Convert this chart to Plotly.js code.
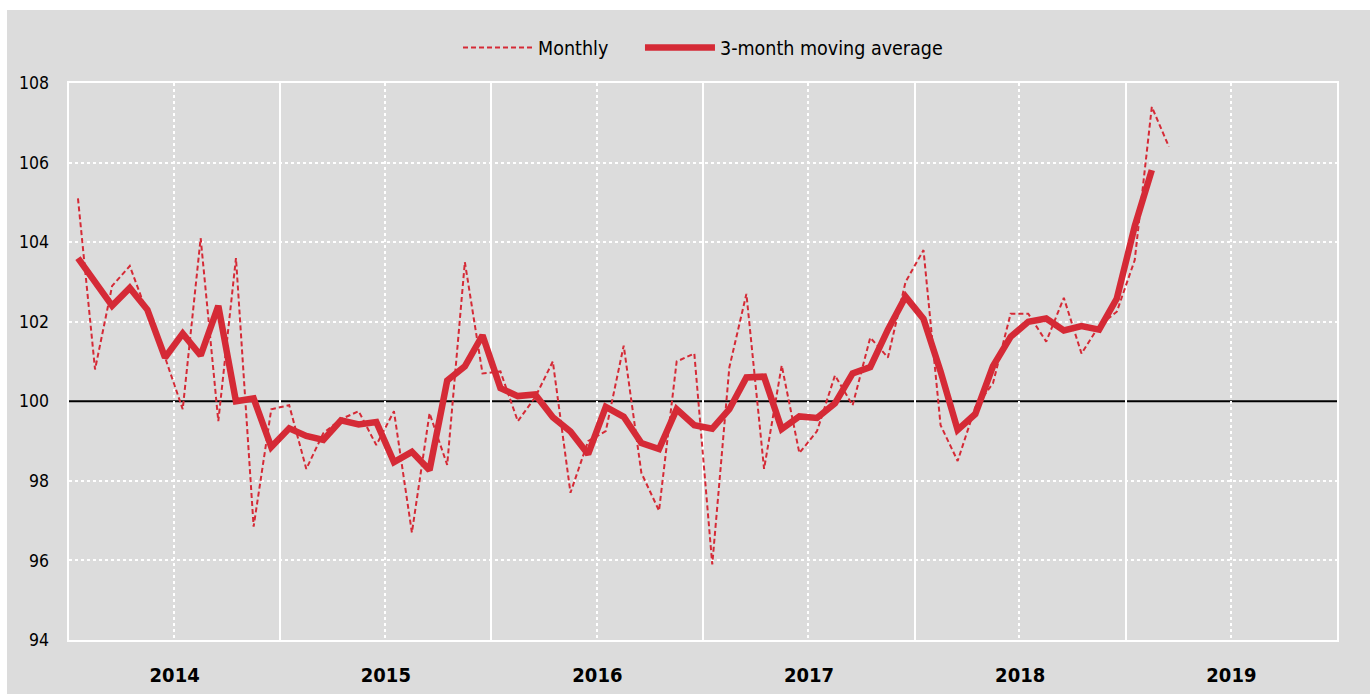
<!DOCTYPE html>
<html>
<head>
<meta charset="utf-8">
<script src="https://cdn.plot.ly/plotly-3.0.1.min.js"></script>
<style>
  html, body { margin: 0; padding: 0; background: #ffffff; }
  #chart { position: absolute; left: 7px; top: 10px; width: 1363px; height: 684px; }
</style>
</head>
<body>
<div id="chart"></div>
<script>
// Months, January 2014 onward
const startMonth = "2014-01";
const monthlyValues = [
  105.1, 100.8, 102.9, 103.4, 102.2, 101.1, 99.8, 104.1, 99.5, 103.6, 96.85, 99.8,
  99.9, 98.3, 99.2, 99.55, 99.75, 98.9, 99.75, 96.7, 99.7, 98.4, 103.5, 100.7,
  100.75, 99.5, 100.1, 101.0, 97.7, 99.0, 99.25, 101.4, 98.2, 97.25, 101.0, 101.2,
  95.9, 100.85, 102.7, 98.3, 100.9, 98.7, 99.25, 100.65, 99.9, 101.6, 101.1, 103.0,
  103.8, 99.4, 98.5, 99.85, 100.45, 102.2, 102.2, 101.5, 102.6, 101.2, 101.9, 102.25,
  103.55, 107.4, 106.4
];
const movingAverageValues = [
  103.6, 103.0, 102.4, 102.85, 102.3, 101.1, 101.7, 101.15, 102.4, 100.0, 100.07, 98.85,
  99.32, 99.13, 99.03, 99.52, 99.42, 99.48, 98.47, 98.73, 98.27, 100.52, 100.88, 101.66,
  100.33, 100.13, 100.17, 99.6, 99.24, 98.67, 99.86, 99.61, 98.95, 98.8, 99.8, 99.4,
  99.31, 99.8, 100.6, 100.62, 99.3, 99.62, 99.58, 99.95, 100.7, 100.86, 101.8, 102.63,
  102.07, 100.75, 99.28, 99.68, 100.88, 101.62, 102.0, 102.08, 101.78, 101.89, 101.8, 102.58,
  104.4, 105.81
];
const yTickValues = [94, 96, 98, 100, 102, 104, 106, 108];
const yDottedGridValues = [96, 98, 102, 104, 106];
const yRange = [94, 108];
const referenceLevel = 100;

function monthDates(n) {
  const [y0, m0] = startMonth.split("-").map(Number);
  const out = [];
  for (let i = 0; i < n; i++) {
    const t = (m0 - 1) + i;
    const y = y0 + Math.floor(t / 12);
    const m = (t % 12) + 1;
    out.push(y + "-" + String(m).padStart(2, "0") + "-01");
  }
  return out;
}

const red = "#d52a36";
const fontFam = '"Liberation Sans Narrow", "Arial Narrow", "DejaVu Sans Condensed", "Liberation Sans", Arial, sans-serif';

const traces = [
  {
    x: monthDates(monthlyValues.length),
    y: monthlyValues,
    xperiod: "M1",
    xperiodalignment: "middle",
    type: "scatter",
    mode: "lines",
    name: "Monthly",
    legend: "legend",
    line: { color: red, width: 2, dash: "5px,3px" },
    hoverinfo: "skip"
  },
  {
    x: monthDates(movingAverageValues.length),
    y: movingAverageValues,
    yaxis: "y2",
    xperiod: "M1",
    xperiodalignment: "middle",
    type: "scatter",
    mode: "lines",
    name: "3-month moving average",
    legend: "legend2",
    line: { color: red, width: 6.5 },
    hoverinfo: "skip"
  }
];

const legendCommon = {
  orientation: "h",
  xanchor: "left",
  y: 1.063, yanchor: "middle",
  bgcolor: "rgba(0,0,0,0)",
  font: { family: fontFam, size: 19.5, color: "#000" },
  itemwidth: 70
};

const layout = {
  width: 1363,
  height: 684,
  paper_bgcolor: "#dcdcdc",
  plot_bgcolor: "#dcdcdc",
  margin: { l: 62, r: 33, t: 73, b: 54 },
  font: { family: fontFam, color: "#000000", size: 18 },
  showlegend: true,
  legend: Object.assign({}, legendCommon, { x: 0.3068 }),
  legend2: Object.assign({}, legendCommon, { x: 0.4503 }),
  xaxis: {
    type: "date",
    range: ["2014-01-01", "2020-01-01"],
    tick0: "2014-01-01",
    dtick: "M12",
    tickformat: "%Y",
    ticklabelmode: "period",
    ticks: "",
    showgrid: true,
    gridcolor: "#ffffff",
    gridwidth: 2,
    minor: { dtick: "M6", tick0: "2014-01-01", showgrid: true, gridcolor: "#ffffff", griddash: "dot", gridwidth: 2, ticks: "" },
    showline: true,
    linecolor: "#ffffff",
    linewidth: 2,
    mirror: true,
    zeroline: false,
    tickfont: { family: fontFam, size: 20, color: "#000", weight: "bold" },
    ticklabelstandoff: 16,
    fixedrange: true
  },
  // main y axis: dotted grid only (no grid line at the 100 reference level)
  yaxis: {
    range: yRange,
    tickvals: yDottedGridValues,
    showticklabels: false,
    ticks: "",
    showgrid: true,
    gridcolor: "#ffffff",
    gridwidth: 2,
    griddash: "dot",
    showline: true,
    linecolor: "#ffffff",
    linewidth: 2,
    mirror: true,
    zeroline: false,
    fixedrange: true
  },
  // overlaid y axis with identical range: tick labels
  yaxis2: {
    overlaying: "y",
    side: "left",
    range: yRange,
    tickvals: yTickValues,
    ticktext: yTickValues.map(String),
    ticks: "",
    showgrid: false,
    showline: false,
    zeroline: false,
    tickfont: { family: fontFam, size: 17.5, color: "#000" },
    ticklabelstandoff: 19,
    fixedrange: true
  },
  shapes: [
    {
      type: "line", xref: "paper", yref: "y",
      x0: 0, x1: 1, y0: referenceLevel, y1: referenceLevel,
      line: { color: "#000000", width: 2 },
      layer: "below"
    }
  ]
};

Plotly.newPlot("chart", traces, layout, { displayModeBar: false, staticPlot: true });
</script>
</body>
</html>
